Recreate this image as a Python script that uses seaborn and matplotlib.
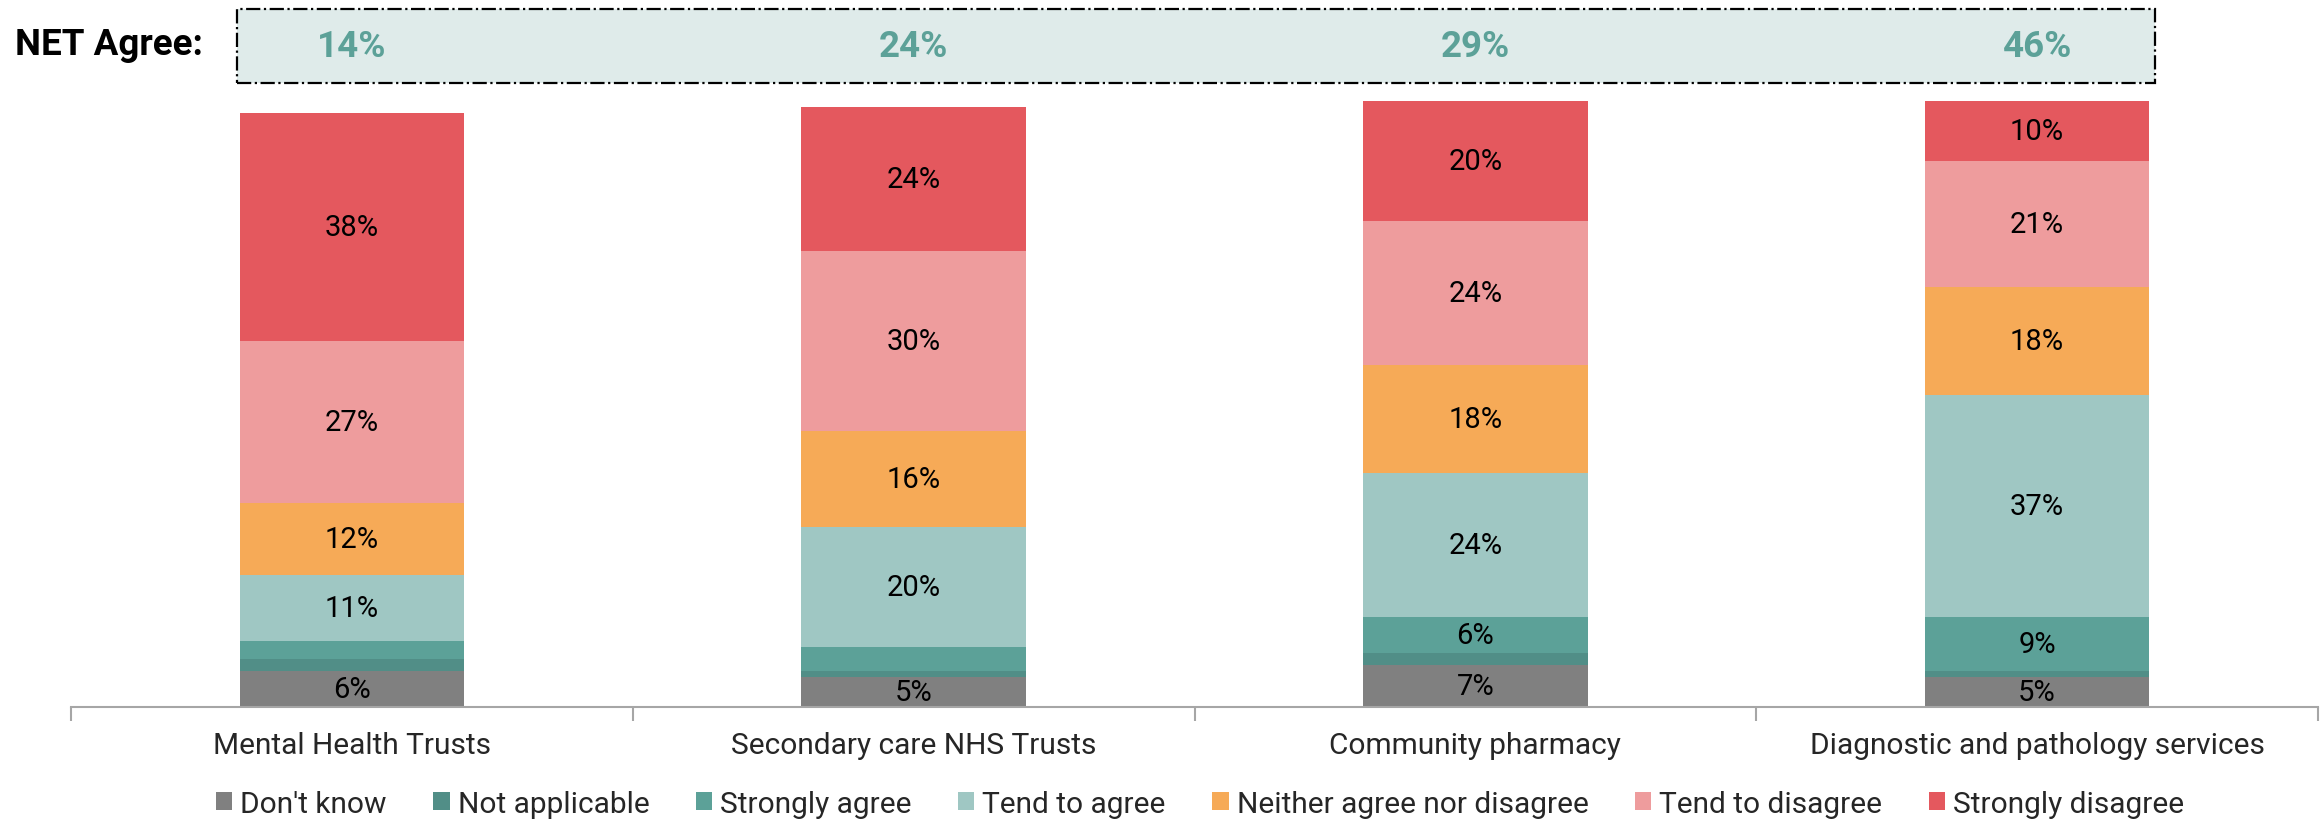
import matplotlib
matplotlib.use("Agg")
import matplotlib.pyplot as plt
import seaborn as sns
import numpy as np
from matplotlib.patches import Patch, Rectangle

# Survey results by service type (percent of respondents)
categories = ["Mental Health Trusts", "Secondary care NHS Trusts",
              "Community pharmacy", "Diagnostic and pathology services"]
responses = ["Don't know", "Not applicable", "Strongly agree", "Tend to agree",
             "Neither agree nor disagree", "Tend to disagree", "Strongly disagree"]
dont_know = [6, 5, 7, 5]
not_applicable = [2, 1, 2, 1]
strongly_agree = [3, 4, 6, 9]
tend_to_agree = [11, 20, 24, 37]
neither = [12, 16, 18, 18]
tend_to_disagree = [27, 30, 24, 21]
strongly_disagree = [38, 24, 20, 10]
net_agree = [14, 24, 29, 46]

colors = ["#808080", "#518E87", "#5CA198", "#9FC7C3",
          "#F6AA57", "#EE9C9D", "#E4585E"]

sns.set_theme(style="white")
plt.rcParams["font.family"] = ["Roboto", "DejaVu Sans"]

series = [dont_know, not_applicable, strongly_agree, tend_to_agree,
          neither, tend_to_disagree, strongly_disagree]
values = np.array(series, dtype=float)
cum = np.cumsum(values, axis=0)

fig = plt.figure(figsize=(23.23, 8.2), dpi=100)
ax = fig.add_axes([71 / 2323, 112 / 820, 2247 / 2323, 708 / 820])

# Stacked bars: draw cumulative totals from the top segment down
for i in range(len(series) - 1, -1, -1):
    sns.barplot(x=categories, y=cum[i], color=colors[i], saturation=1,
                width=0.4, linewidth=0, errorbar=None, ax=ax, order=categories)

# Segment labels
for j in range(len(categories)):
    for i in range(len(series)):
        v = values[i, j]
        if v >= 5:
            bottom = cum[i, j] - v
            ax.text(j, bottom + v / 2, f"{int(v)}%", ha="center", va="center",
                    fontsize=21, color="black")

ax.set_xlim(-0.5, len(categories) - 0.5)
ax.set_ylim(0, 118)
ax.set_yticks([])
ax.set_ylabel("")
for s in ["left", "right", "top"]:
    ax.spines[s].set_visible(False)
ax.spines["bottom"].set_color("#A6A6A6")
ax.spines["bottom"].set_linewidth(1.5)
ax.set_xticks(range(len(categories)))
ax.set_xticklabels(categories, fontsize=21.5)
ax.tick_params(axis="x", which="major", length=0, pad=17)
ax.set_xticks(np.arange(-0.5, len(categories), 1.0), minor=True)
ax.tick_params(axis="x", which="minor", bottom=True, length=10, width=1.5,
               color="#A6A6A6", direction="out")

# NET Agree band
box = Rectangle((-0.205, 104), 3.415, 12.3, facecolor="#DFEBEA",
                edgecolor="black", linestyle="-.", linewidth=1.6,
                clip_on=False, zorder=3)
ax.add_patch(box)
for j, v in enumerate(net_agree):
    ax.text(j, 110.2, f"{v}%", ha="center", va="center", fontsize=26.5,
            fontweight="bold", color="#5CA198", zorder=4)
fig.text(15 / 2323, 1 - 45 / 820, "NET Agree:", ha="left", va="center",
         fontsize=26.5, fontweight="bold", color="black")

# Legend
handles = [Patch(facecolor=c, edgecolor="none") for c in colors]
fig.legend(handles, responses, loc="center", ncol=7,
           bbox_to_anchor=(1200 / 2323, 1 - 805 / 820), frameon=False,
           fontsize=21.5, handlelength=0.55, handleheight=0.55,
           handletextpad=0.27, columnspacing=1.55, borderpad=0, borderaxespad=0)

fig.savefig("out.png", dpi=100)
